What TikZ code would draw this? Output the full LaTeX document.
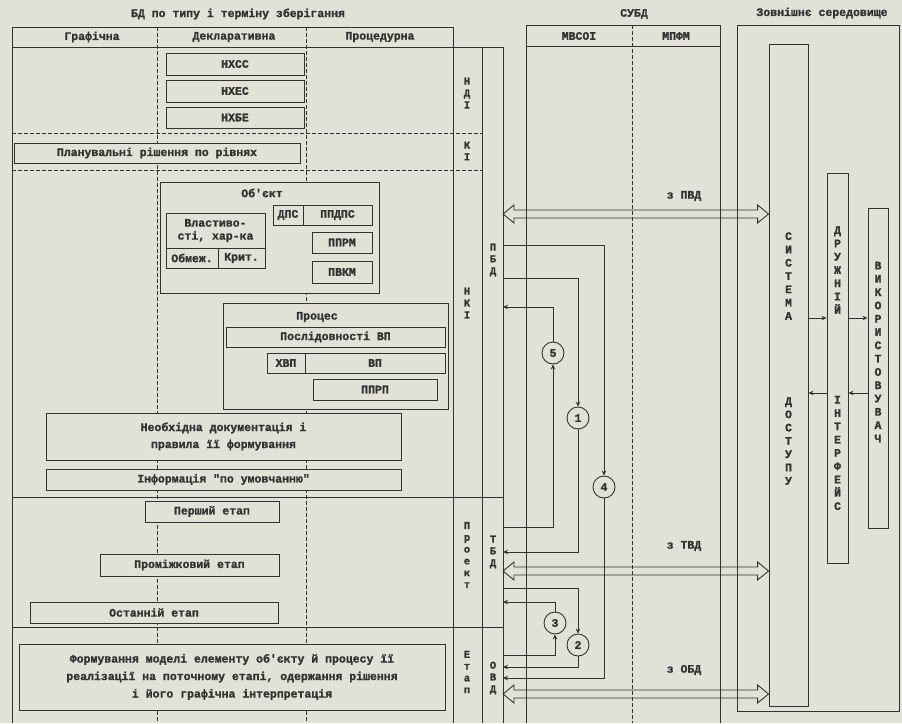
\documentclass[tikz,border=0pt]{standalone}
\usepackage{fontspec}
\setmainfont{Liberation Serif}
\newfontfamily\twfont{Liberation Mono}[BoldFeatures={FakeBold=1.3}]
\usetikzlibrary{calc,arrows.meta}
\definecolor{paper}{RGB}{226,225,215}
\definecolor{ink}{RGB}{50,50,50}
\newcommand\dtxt{\twfont\bfseries\fontsize{11.5}{13}\selectfont}
\newcommand\dvtxt{\twfont\bfseries\fontsize{11.5}{13.3}\selectfont}
\newcommand\dstxt{\twfont\bfseries\fontsize{10.5}{11.8}\selectfont}
\tikzset{
  ln/.style={draw=ink, line width=0.8pt},
  dsh/.style={draw=ink, line width=0.7pt, dash pattern=on 4pt off 2pt},
  box/.style={draw=ink, line width=0.9pt, fill=paper, inner sep=0pt, align=center, text=ink, font=\dtxt},
  lbl/.style={text=ink, font=\dtxt, inner sep=0pt},
  vt/.style={text=ink, align=center, inner sep=0pt, font=\dvtxt},
  vts/.style={text=ink, align=center, inner sep=0pt, font=\dstxt},
  circ/.style={circle, draw=ink, line width=0.9pt, minimum size=22pt, inner sep=0pt, font=\dtxt, text=ink, fill=paper},
  conn/.style={draw=ink, line width=0.8pt, -{Stealth[length=5pt,width=4.5pt]}},
  hollow/.style={draw=ink, line width=0.9pt},
}
\newcommand\bx[7][]{%
  \pgfmathsetmacro\bxw{#5-(#3)}%
  \pgfmathsetmacro\bxh{#6-(#4)}%
  \pgfmathsetmacro\bxcx{(#3+#5)/2}%
  \pgfmathsetmacro\bxcy{(#4+#6)/2}%
  \node[box, minimum width=\bxw pt, minimum height=\bxh pt, #1] (#2) at (\bxcx,\bxcy) {#7};}
\newcommand\hollowarrow[2]{%
  \draw[hollow] (#1) -- ($(#1)+(11,-9)$) -- ($(#1)+(11,-4)$) -- ($(#2)+(-11,-4)$) -- ($(#2)+(-11,-9)$) -- (#2)
    -- ($(#2)+(-11,9)$) -- ($(#2)+(-11,4)$) -- ($(#1)+(11,4)$) -- ($(#1)+(11,9)$) -- cycle;}
\begin{document}
\begin{tikzpicture}[x=1pt,y=-1pt]
\fill[paper] (0,0) rectangle (902,723);
\useasboundingbox (0,0) rectangle (902,723);

% ---------- titles ----------
\node[lbl] (title1) at (238,14) {БД по типу і терміну зберігання};
\node[lbl] (title2) at (634,14) {СУБД};
\node[lbl] (title3) at (822,13) {Зовнішнє середовище};

% ---------- left table frame ----------
\draw[ln] (12,723) -- (12,27) -- (453,27) -- (453,723);
\draw[ln] (12,47) -- (503,47);
\draw[ln] (482,47) -- (482,723);
\draw[ln] (503,47) -- (503,723);
\draw[dsh] (157,27) -- (157,723);
\draw[dsh] (306,27) -- (306,723);
\draw[dsh] (12,133) -- (482,133);
\draw[dsh] (12,170) -- (482,170);
\draw[ln] (12,497) -- (503,497);
\draw[ln] (12,627) -- (503,627);

\node[lbl] (h1) at (92,37) {Графічна};
\node[lbl] (h2) at (234,37) {Декларативна};
\node[lbl] (h3) at (380,37) {Процедурна};

% ---------- SUBD frame ----------
\draw[ln] (526,723) -- (526,25) -- (720,25) -- (720,723);
\draw[ln] (526,46) -- (720,46);
\draw[dsh] (632,25) -- (632,723);
\node[lbl] (h4) at (579,36) {МВСОІ};
\node[lbl] (h5) at (676,36) {МПФМ};

% ---------- external frame ----------
\draw[ln] (737,25) rectangle (899,711);

% ---------- left table boxes ----------
\bx{nhss}{166}{53}{304}{75}{НХСС}
\bx{nhes}{166}{80}{304}{102}{НХЕС}
\bx{nhbe}{166}{107}{304}{128}{НХБЕ}
\bx{plan}{14}{143}{300}{163}{Планувальні рішення по рівнях}

\bx{obj}{160}{182}{379}{293}{}
\node[lbl] (objt) at (262,193) {Об'єкт};
\bx{dps}{273}{205}{303}{225}{ДПС}
\bx{ppdps}{303}{205}{372}{225}{ППДПС}
\bx{vlast}{166}{213}{265}{248}{Властиво-\\сті, хар-ка}
\bx{obmezh}{166}{248}{218}{268}{Обмеж.}
\bx{kryt}{218}{248}{265}{268}{Крит.}
\bx{pprm}{312}{232}{372}{253}{ППРМ}
\bx{pvkm}{312}{261}{372}{283}{ПВКМ}

\bx{proc}{223}{303}{448}{409}{}
\node[lbl] (proct) at (317,317) {Процес};
\bx{posl}{226}{327}{445}{347}{Послідовності ВП}
\bx{hvp}{267}{353}{305}{373}{ХВП}
\bx{vp}{305}{353}{445}{373}{ВП}
\bx{pprp}{313}{379}{437}{400}{ППРП}

\bx[font={\twfont\bfseries\fontsize{11.5}{17}\selectfont}]{doc}{46}{413}{401}{460}{Необхідна документація і\\правила її формування}
\bx{info}{46}{469}{401}{490}{Інформація "по умовчанню"}
\bx{st1}{145}{501}{279}{522}{Перший етап}
\bx{st2}{100}{554}{279}{576}{Проміжковий етап}
\bx{st3}{30}{602}{278}{623}{Останній етап}
\bx[font={\twfont\bfseries\fontsize{11.5}{17.5}\selectfont}]{form}{19}{644}{445}{710}{Формування моделі елементу об'єкту й процесу її\\реалізації на поточному етапі, одержання рішення\\і його графічна інтерпретація}

% ---------- stage labels ----------
\node[vts] (lndi) at (467,93) {Н\\Д\\І};
\node[vts] (lki) at (467,151) {К\\І};
\node[vts] (lnki) at (467,303) {Н\\К\\І};
\node[vts] (lpbd) at (493,260) {П\\Б\\Д};
\node[vts] (lpr) at (467,555) {П\\р\\о\\е\\к\\т};
\node[vts] (ltbd) at (493,552) {Т\\Б\\Д};
\node[vts] (letap) at (467,672) {Е\\т\\а\\п};
\node[vts] (lovd) at (493,678) {О\\В\\Д};

% ---------- right panel ----------
\bx{sys}{769}{44}{808}{706}{}
\bx{dr}{827}{173}{848}{563}{}
\bx{us}{868}{208}{888}{528}{}
\node[vt] (syst1) at (788.5,276) {С\\И\\С\\Т\\Е\\М\\А};
\node[vt] (syst2) at (788.5,441) {Д\\О\\С\\Т\\У\\П\\У};
\node[vt] (drt1) at (837.5,270) {Д\\Р\\У\\Ж\\Н\\І\\Й};
\node[vt] (drt2) at (837.5,453) {І\\Н\\Т\\Е\\Р\\Ф\\Е\\Й\\С};
\node[vt] (ust) at (878,352) {В\\И\\К\\О\\Р\\И\\С\\Т\\О\\В\\У\\В\\А\\Ч};

\coordinate (ya) at (0,318);
\coordinate (yb) at (0,393);
\draw[conn] (sys.east |- ya) -- (dr.west |- ya);
\draw[conn] (dr.east |- ya) -- (us.west |- ya);
\draw[conn] (dr.west |- yb) -- (sys.east |- yb);
\draw[conn] (us.west |- yb) -- (dr.east |- yb);

% ---------- hollow arrows ----------
\coordinate (aL1) at (503,214);
\coordinate (aL2) at (503,571);
\coordinate (aL3) at (503,694);
\coordinate (aR1) at (sys.west |- aL1);
\coordinate (aR2) at (sys.west |- aL2);
\coordinate (aR3) at (sys.west |- aL3);
\hollowarrow{aL1}{aR1}
\hollowarrow{aL2}{aR2}
\hollowarrow{aL3}{aR3}
\node[lbl] (lpvd) at (684,196) {з ПВД};
\node[lbl] (ltvd) at (684,546) {з ТВД};
\node[lbl] (lovd2) at (684,670) {з ОБД};

% ---------- circles and flows ----------
\node[circ] (c5) at (553,353) {5};
\node[circ] (c1) at (578,418) {1};
\node[circ] (c4) at (604,487) {4};
\node[circ] (c3) at (555,623) {3};
\node[circ] (c2) at (578,645) {2};

\coordinate (p4) at (503,245);
\coordinate (p1) at (503,278);
\coordinate (p5) at (503,307);
\coordinate (t5) at (503,527);
\coordinate (t1) at (503,552);
\coordinate (t2) at (503,588);
\coordinate (t3) at (503,602);
\coordinate (o3) at (503,655);
\coordinate (o2) at (503,667);
\coordinate (o4) at (503,678);

\draw[conn] (p1) -| (c1);
\draw[conn] (c1) |- (t1);
\draw[conn] (t5) -| (c5);
\draw[conn] (c5) |- (p5);
\draw[conn] (p4) -| (c4);
\draw[conn] (c4) |- (o4);
\draw[conn] (t2) -| (c2);
\draw[conn] (c2) |- (o2);
\draw[conn] (o3) -| (c3);
\draw[conn] (c3) |- (t3);
\end{tikzpicture}
\end{document}
